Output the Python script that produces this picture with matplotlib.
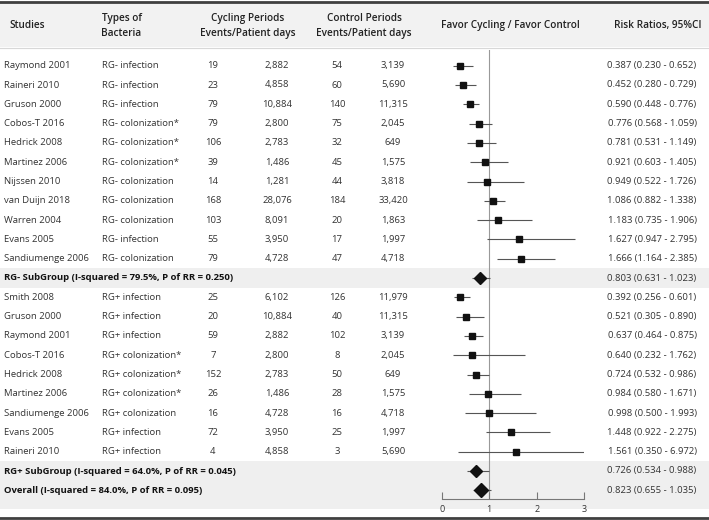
import matplotlib.pyplot as plt

plt.rcParams['font.family'] = ['Open Sans', 'DejaVu Sans']

# ---- data ----
neg_studies = ['Raymond 2001', 'Raineri 2010', 'Gruson 2000', 'Cobos-T 2016', 'Hedrick 2008',
               'Martinez 2006', 'Nijssen 2010', 'van Duijn 2018', 'Warren 2004', 'Evans 2005',
               'Sandiumenge 2006']
neg_types = ['RG- infection', 'RG- infection', 'RG- infection', 'RG- colonization*',
             'RG- colonization*', 'RG- colonization*', 'RG- colonization', 'RG- colonization',
             'RG- colonization', 'RG- infection', 'RG- colonization']
neg_cyc_events = [19, 23, 79, 79, 106, 39, 14, 168, 103, 55, 79]
neg_cyc_days = [2882, 4858, 10884, 2800, 2783, 1486, 1281, 28076, 8091, 3950, 4728]
neg_ctl_events = [54, 60, 140, 75, 32, 45, 44, 184, 20, 17, 47]
neg_ctl_days = [3139, 5690, 11315, 2045, 649, 1575, 3818, 33420, 1863, 1997, 4718]
neg_rr = [0.387, 0.452, 0.590, 0.776, 0.781, 0.921, 0.949, 1.086, 1.183, 1.627, 1.666]
neg_lo = [0.230, 0.280, 0.448, 0.568, 0.531, 0.603, 0.522, 0.882, 0.735, 0.947, 1.164]
neg_hi = [0.652, 0.729, 0.776, 1.059, 1.149, 1.405, 1.726, 1.338, 1.906, 2.795, 2.385]

pos_studies = ['Smith 2008', 'Gruson 2000', 'Raymond 2001', 'Cobos-T 2016', 'Hedrick 2008',
               'Martinez 2006', 'Sandiumenge 2006', 'Evans 2005', 'Raineri 2010']
pos_types = ['RG+ infection', 'RG+ infection', 'RG+ infection', 'RG+ colonization*',
             'RG+ colonization*', 'RG+ colonization*', 'RG+ colonization', 'RG+ infection',
             'RG+ infection']
pos_cyc_events = [25, 20, 59, 7, 152, 26, 16, 72, 4]
pos_cyc_days = [6102, 10884, 2882, 2800, 2783, 1486, 4728, 3950, 4858]
pos_ctl_events = [126, 40, 102, 8, 50, 28, 16, 25, 3]
pos_ctl_days = [11979, 11315, 3139, 2045, 649, 1575, 4718, 1997, 5690]
pos_rr = [0.392, 0.521, 0.637, 0.640, 0.724, 0.984, 0.998, 1.448, 1.561]
pos_lo = [0.256, 0.305, 0.464, 0.232, 0.532, 0.580, 0.500, 0.922, 0.350]
pos_hi = [0.601, 0.890, 0.875, 1.762, 0.986, 1.671, 1.993, 2.275, 6.972]

pooled_labels = ['RG- SubGroup (I-squared = 79.5%, P of RR = 0.250)',
                 'RG+ SubGroup (I-squared = 64.0%, P of RR = 0.045)',
                 'Overall (I-squared = 84.0%, P of RR = 0.095)']
pooled_rr = [0.803, 0.726, 0.823]
pooled_lo = [0.631, 0.534, 0.655]
pooled_hi = [1.023, 0.988, 1.035]
pooled_size = [6.0, 5.8, 7.0]

x_ticks = [0, 1, 2, 3]

# ---- layout (pixel coords) ----
W, H = 709, 520
ROW0, DY = 65.7, 19.3


def row_y(i):
    return ROW0 + DY * i


neg_rows = list(range(len(neg_studies)))
pooled_rows = [len(neg_studies), len(neg_studies) + 1 + len(pos_studies),
               len(neg_studies) + 2 + len(pos_studies)]
pos_rows = list(range(len(neg_studies) + 1, len(neg_studies) + 1 + len(pos_studies)))

fig = plt.figure(figsize=(W / 100, H / 100), dpi=100)
ax = fig.add_axes([0, 0, 1, 1])
ax.set_xlim(0, W)
ax.set_ylim(H, 0)
ax.axis('off')

band = '#efefef'
# header band + rules
ax.axhspan(2, 47, color='#f2f2f2', lw=0)
ax.axhline(1.5, color='#404040', lw=2)
ax.axhline(47.5, color='#d8d8d8', lw=0.8)
ax.axhline(517.5, color='#404040', lw=2)
# pooled rows shading
ax.axhspan(row_y(pooled_rows[0]) - 10, row_y(pooled_rows[0]) + 10, color=band, lw=0)
ax.axhspan(row_y(pooled_rows[1]) - 10.5, 509, color=band, lw=0)

hfs = 7.2
hkw = dict(fontsize=hfs, color='#222222', va='center', fontweight='semibold')
ax.text(9, 25.7, 'Studies', ha='left', **hkw)
ax.text(101.5, 18.3, 'Types of', ha='left', **hkw)
ax.text(101.5, 33.3, 'Bacteria', ha='left', **hkw)
ax.text(248, 18.3, 'Cycling Periods', ha='center', **hkw)
ax.text(248, 33.3, 'Events/Patient days', ha='center', **hkw)
ax.text(364, 18.3, 'Control Periods', ha='center', **hkw)
ax.text(364, 33.3, 'Events/Patient days', ha='center', **hkw)
ax.text(510, 25.7, 'Favor Cycling / Favor Control', ha='center', **hkw)
ax.text(658, 25.7, 'Risk Ratios, 95%CI', ha='center', **hkw)

fs = 6.8
tkw = dict(fontsize=fs, color='#333333', va='center')


def study_rows(rows, studies, types, ce, cd, te, td, rr, lo, hi):
    for r, s, t, a, b, c, d, m, l, h in zip(rows, studies, types, ce, cd, te, td, rr, lo, hi):
        y = row_y(r)
        ax.text(3.5, y, s, ha='left', **tkw)
        ax.text(101.5, y, t, ha='left', **tkw)
        ax.text(213, y, str(a), ha='center', **tkw)
        ax.text(277, y, f'{b:,}', ha='center', **tkw)
        ax.text(337, y, str(c), ha='center', **tkw)
        ax.text(393, y, f'{d:,}', ha='center', **tkw)
        ax.text(652, y, f'{m:.3f} ({l:.3f} - {h:.3f})', ha='center', **tkw)


study_rows(neg_rows, neg_studies, neg_types, neg_cyc_events, neg_cyc_days,
           neg_ctl_events, neg_ctl_days, neg_rr, neg_lo, neg_hi)
study_rows(pos_rows, pos_studies, pos_types, pos_cyc_events, pos_cyc_days,
           pos_ctl_events, pos_ctl_days, pos_rr, pos_lo, pos_hi)

for r, lab, m, l, h in zip(pooled_rows, pooled_labels, pooled_rr, pooled_lo, pooled_hi):
    y = row_y(r)
    ax.text(3.5, y, lab, ha='left', fontsize=fs, color='#111111', va='center',
            fontweight='bold')
    ax.text(652, y, f'{m:.3f} ({l:.3f} - {h:.3f})', ha='center', **tkw)

# ---- forest panel ----
x0, x3 = 441.7, 584.3
y_top, y_axis = 50, 499
ax2 = fig.add_axes([x0 / W, (H - y_axis) / H, (x3 - x0) / W, (y_axis - y_top) / H])
ax2.patch.set_alpha(0)
ax2.set_xlim(x_ticks[0], x_ticks[-1])
ax2.set_ylim(y_axis, y_top)
for sp in ['top', 'left', 'right']:
    ax2.spines[sp].set_visible(False)
ax2.spines['bottom'].set_color('#777777')
ax2.spines['bottom'].set_linewidth(0.8)
ax2.set_yticks([])
ax2.set_xticks(x_ticks)
ax2.tick_params(axis='x', direction='in', length=5, width=0.8, color='#777777',
                labelsize=6.5, labelcolor='#333333', pad=4)
ax2.axvline(1, color='#999999', lw=0.8, zorder=1)

all_rows = neg_rows + pos_rows
all_rr = neg_rr + pos_rr
all_lo = neg_lo + pos_lo
all_hi = neg_hi + pos_hi
ys = [row_y(r) for r in all_rows]
ax2.hlines(ys, all_lo, all_hi, color='#555555', lw=0.8, zorder=2)
ax2.plot(all_rr, ys, 's', color='#111111', ms=3.8, zorder=3)

for r, m, l, h, sz in zip(pooled_rows, pooled_rr, pooled_lo, pooled_hi, pooled_size):
    y = row_y(r)
    ax2.hlines(y, l, h, color='#555555', lw=0.8, zorder=2)
    ax2.plot(m, y, 'D', color='#111111', ms=sz, zorder=3)

fig.savefig('out.png', dpi=100)
